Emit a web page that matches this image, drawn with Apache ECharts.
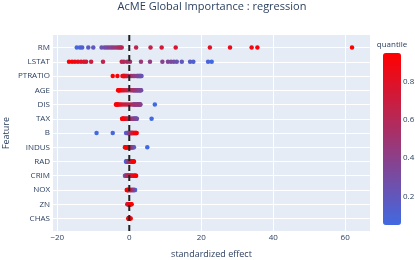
<!DOCTYPE html>
<html><head><meta charset="utf-8">
<script src="https://cdn.jsdelivr.net/npm/echarts@6/dist/echarts.min.js"></script>
<style>html,body{margin:0;padding:0;background:#fff}#c{width:415px;height:260px}</style>
</head><body><div id="c"></div>
<script>
const features = ['RM','LSTAT','PTRATIO','AGE','DIS','TAX','B','INDUS','RAD','CRIM','NOX','ZN','CHAS'];
const quantiles = [0.05,0.0875,0.125,0.1625,0.2,0.2375,0.275,0.3125,0.35,0.3875,0.425,0.4625,0.5,0.5375,0.575,0.6125,0.65,0.6875,0.725,0.7625,0.8,0.8375,0.875,0.9125,0.95];
const effRM = [-14.6,-13.7,-13.1,-11.4,-10.0,-7.7,-6.9,-6.3,-5.7,-5.1,-4.6,-4.0,-3.4,-2.9,-2.5,-2.1,1.9,5.9,9.0,12.9,22.4,28.0,34.0,35.6,61.9];
const effLSTAT = [22.9,21.9,17.8,16.9,14.6,13.2,12.4,11.6,10.75,9.2,5.75,3.25,0.2,-0.6,-1.5,-2.1,-7.3,-10.6,-12.0,-12.6,-13.4,-14.25,-15.1,-15.9,-16.75];
const effPTRATIO = [2.2,2.6,2.9,3.2,3.4,3.1,2.7,2.3,1.9,1.5,1.1,0.7,0.3,-0.1,-0.4,-0.7,-0.9,-1.1,-1.3,-1.4,-1.6,-1.7,-1.9,-3.3,-4.6];
const effAGE = [1.2,1.6,2.0,2.4,2.8,3.1,3.3,3.0,2.6,2.2,1.8,1.4,1.0,0.6,0.2,-0.3,-0.8,-1.3,-1.7,-2.1,-2.4,-2.7,-2.9,-3.0,-3.1];
const effDIS = [7.1,1.2,1.5,1.8,2.1,2.4,2.7,3.0,3.1,2.9,2.6,2.2,1.6,1.0,0.4,-0.2,-0.8,-1.4,-2.0,-2.5,-2.9,-3.2,-3.4,-3.6,-3.7];
const effTAX = [6.2,1.2,1.5,1.8,2.0,2.1,1.9,1.6,1.3,1.0,0.7,0.4,0.15,-0.1,-0.3,-0.5,-0.7,-0.9,-1.1,-1.3,-1.5,-1.6,-1.75,-1.9,-2.0];
const effB = [-9.1,-4.6,-0.9,-0.6,-0.45,-0.3,-0.15,0.0,0.1,0.2,0.3,0.4,0.5,0.6,0.7,0.8,0.9,1.0,1.15,1.3,1.45,1.6,1.75,1.9,2.05];
const effINDUS = [5.0,1.3,1.15,1.0,0.85,0.7,0.6,0.5,0.4,0.3,0.2,0.1,0.0,-0.1,-0.2,-0.3,-0.4,-0.5,-0.6,-0.7,-0.8,-0.9,-1.0,-1.1,-1.2];
const effRAD = [-0.9,-0.85,-0.8,-0.7,-0.65,-0.55,-0.5,-0.4,-0.3,-0.25,-0.1,0.0,0.1,0.2,0.3,0.35,0.5,0.6,0.7,0.8,0.9,1.0,1.1,1.2,1.3];
const effCRIM = [-1.2,-1.1,-1.0,-0.9,-0.7,-0.5,-0.3,-0.2,-0.1,0.0,0.1,0.2,0.3,-0.8,-0.6,-0.4,0.45,0.6,0.8,1.0,1.2,1.4,1.6,1.75,1.9];
const effNOX = [1.6,1.5,1.4,1.3,1.2,1.1,1.0,0.9,0.8,0.7,0.6,0.5,0.4,0.3,0.2,0.1,0.0,-0.1,-0.2,-0.3,-0.4,-0.5,-0.55,-0.6,-0.7];
const effZN = [0,0,0,0,0,0,0,0,0,0,0,0,0,0,0,0,0,0,-0.55,-0.4,-0.2,0.1,0.3,0.5,0.65];
const effCHAS = [0,0,0,0,0,0,0,0,0,0,0,0,0,0,0,0,0,0,0,0,0,0,0,-0.3,0.4];
const xTicks = [-20,0,20,40,60];
const cbTicks = [0.2,0.4,0.6,0.8];

const effects = [effRM,effLSTAT,effPTRATIO,effAGE,effDIS,effTAX,effB,effINDUS,effRAD,effCRIM,effNOX,effZN,effCHAS];
const pts = [];
effects.forEach((arr,i)=>arr.forEach((v,j)=>pts.push([v,i,quantiles[j]])));
const rowIdx = features.map((f,i)=>i);

const FONT = '"Open Sans", verdana, arial, sans-serif';
const TXT = '#2a3f5f';
const chart = echarts.init(document.getElementById('c'), null, {renderer:'canvas'});
chart.setOption({
  animation:false,
  backgroundColor:'#ffffff',
  textStyle:{fontFamily:FONT},
  title:[
    {text:'AcME Global Importance : regression', left:212, top:1, textAlign:'center', padding:0,
     textStyle:{fontFamily:FONT, fontSize:11, fontWeight:'normal', color:TXT}},
    {text:'quantile', left:392, top:41, textAlign:'center', padding:0,
     textStyle:{fontFamily:FONT, fontSize:8, fontWeight:'normal', color:TXT}}
  ],
  grid:[
    {left:53, right:45, top:35, bottom:29, show:true, backgroundColor:'#E5ECF6', borderWidth:0, containLabel:false, outerBoundsMode:'none'},
    {left:383, top:53, width:18, height:172, show:false, containLabel:false, outerBoundsMode:'none'}
  ],
  xAxis:[
    {type:'value', gridIndex:0, min:-21.2, max:66.9,
     name:'standardized effect', nameLocation:'middle', nameGap:19, nameMoveOverlap:false,
     nameTextStyle:{fontFamily:FONT, fontSize:9, color:TXT},
     axisLine:{show:false},
     axisTick:{show:false, customValues:xTicks},
     axisLabel:{customValues:xTicks, fontSize:8, color:TXT, margin:3, fontFamily:FONT,
       formatter:v=>v<0?'\u2212'+Math.abs(v):String(v)},
     splitLine:{show:true, lineStyle:{color:'#ffffff', width:1}}},
    {type:'value', gridIndex:1, show:false, min:0, max:1}
  ],
  yAxis:[
    {type:'value', gridIndex:0, min:-0.88, max:12.88, inverse:true,
     name:'Feature', nameLocation:'middle', nameGap:42, nameMoveOverlap:false,
     nameTextStyle:{fontFamily:FONT, fontSize:9, color:TXT},
     axisLine:{show:false},
     axisTick:{show:false, customValues:rowIdx},
     axisLabel:{customValues:rowIdx, fontSize:8, color:TXT, margin:3, fontFamily:FONT,
       formatter:v=>features[Math.round(v)]||''},
     splitLine:{show:true, lineStyle:{color:'#ffffff', width:1}}},
    {type:'value', gridIndex:1, position:'right', min:0.05, max:0.95,
     axisLine:{show:false},
     axisTick:{show:false, customValues:cbTicks},
     axisLabel:{customValues:cbTicks, fontSize:8, color:TXT, margin:2, fontFamily:FONT},
     splitLine:{show:false}}
  ],
  visualMap:{type:'continuous', min:0.05, max:0.95, dimension:2, seriesIndex:0,
    orient:'vertical', left:383, top:53, itemWidth:18, itemHeight:172, padding:0,
    calculable:false, hoverLink:false, text:null,
    inRange:{color:['#4169E1','#FF0000']}},
  series:[
    {type:'scatter', xAxisIndex:0, yAxisIndex:0, data:pts, symbolSize:4.5, z:3,
     itemStyle:{opacity:1}},
    {type:'line', xAxisIndex:0, yAxisIndex:0, data:[[0,-0.88],[0,12.88]], symbol:'none', z:5, silent:true,
     lineStyle:{color:'#222222', width:2, type:[6,4]}}
  ]
});
</script></body></html>
